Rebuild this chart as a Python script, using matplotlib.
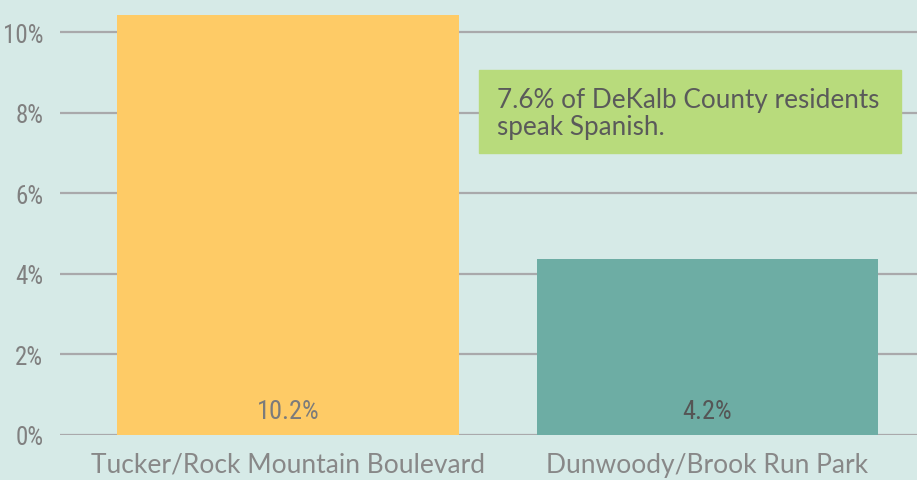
import matplotlib
matplotlib.use("Agg")
import matplotlib.pyplot as plt
from matplotlib.patches import Rectangle

# data
places = ["Tucker/Rock Mountain Boulevard", "Dunwoody/Brook Run Park"]
bar_heights = [10.42, 4.37]          # drawn heights (as seen on the axis)
bar_labels = ["10.2%", "4.2%"]       # printed values
bar_colors = ["#FECB66", "#6DADA4"]
label_colors = ["#7B7B7B", "#555555"]
yticks = [0, 2, 4, 6, 8, 10]
note = "7.6% of DeKalb County residents\nspeak Spanish."

bg = "#D6EAE7"
narrow = ["Roboto Condensed", "Roboto"]

fig = plt.figure(figsize=(9.17, 4.81), dpi=100, facecolor=bg)
W, H = 917, 481
ax = fig.add_axes([60 / W, 45 / H, 857 / W, 436 / H])
ax.set_facecolor(bg)

x = range(len(places))
ax.bar(x, bar_heights, width=0.815, color=bar_colors, zorder=2)
for i, (lab, c) in enumerate(zip(bar_labels, label_colors)):
    ax.text(i, 0.6, lab, ha="center", va="center", fontsize=19,
            family=narrow, color=c, zorder=3)

ax.set_xlim(-0.5435, 1.4994)
ax.set_ylim(0, 10.82)
ax.set_yticks(yticks)
ax.set_yticklabels([f"{t}%" for t in yticks], family=narrow, fontsize=18, color="#808080")
ax.yaxis.grid(True, color="#A9A9AB", linewidth=1.6)
ax.set_axisbelow(True)
ax.tick_params(axis="y", length=0, pad=12)
ax.set_xticks(list(x))
ax.set_xticklabels(places, fontsize=19, color="#888888", family="Lato")
ax.tick_params(axis="x", length=0, pad=12)
for s in ax.spines.values():
    s.set_visible(False)

# callout box
fig.patches.append(Rectangle((479 / W, 1 - 154 / H), 422 / W, 83 / H,
                             transform=fig.transFigure, color="#B8DB7C", zorder=5))
fig.text(497 / W, 1 - 114 / H, note, fontsize=18.8, color="#5A5A5A", family="Lato",
         va="center", ha="left", linespacing=1.1, zorder=6)

fig.savefig("out.png", dpi=100, facecolor=bg)
